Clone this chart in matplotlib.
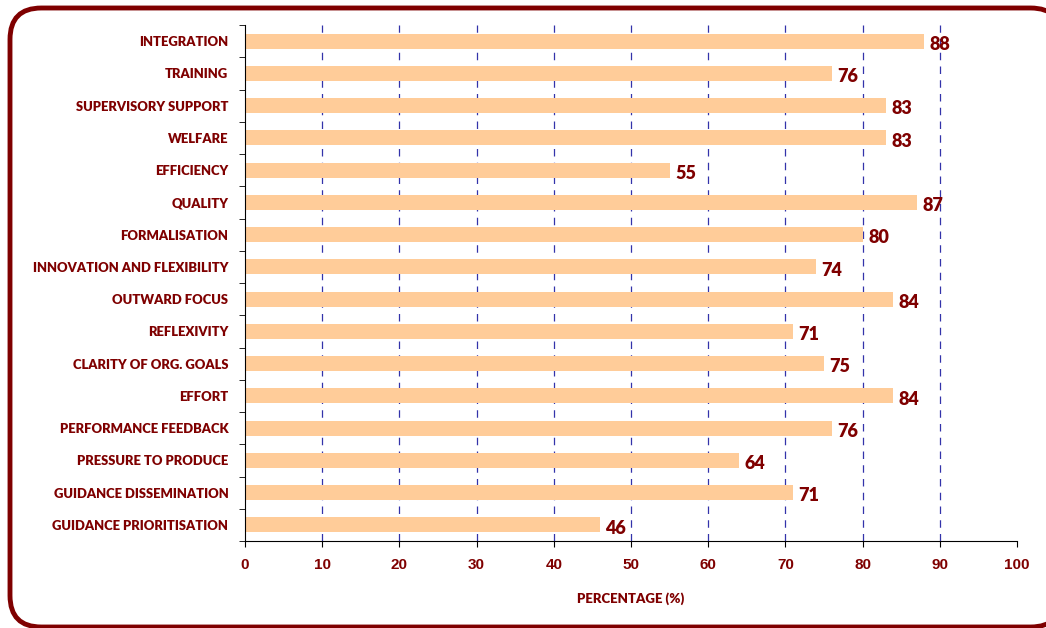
import numpy as np
import matplotlib.pyplot as plt
from matplotlib.patches import FancyBboxPatch

#####DATA#####
categories = ['INTEGRATION', 'TRAINING', 'SUPERVISORY SUPPORT', 'WELFARE', 'EFFICIENCY',
              'QUALITY', 'FORMALISATION', 'INNOVATION AND FLEXIBILITY', 'OUTWARD FOCUS',
              'REFLEXIVITY', 'CLARITY OF ORG. GOALS', 'EFFORT', 'PERFORMANCE FEEDBACK',
              'PRESSURE TO PRODUCE', 'GUIDANCE DISSEMINATION', 'GUIDANCE PRIORITISATION']
values = [88, 76, 83, 83, 55, 87, 80, 74, 84, 71, 75, 84, 76, 64, 71, 46]
labels = ['88', '76', '83', '83', '55', '87', '80', '74', '84', '71', '75', '84', '76', '64', '71', '46']
xticks = [0, 10, 20, 30, 40, 50, 60, 70, 80, 90, 100]

dark_red = '#7f0000'
W, H = 1046, 628

fig = plt.figure(figsize=(W / 100, H / 100), dpi=100)

#rounded frame round the chart, cut off a little at right and bottom
x0, x1, ytop, ybot = 10, 1062, 8, 627
frame = FancyBboxPatch((x0 / W, 1 - ybot / H), (x1 - x0) / W, (ybot - ytop) / H,
                       transform=fig.transFigure,
                       boxstyle='round,pad=0,rounding_size=0.03', facecolor='white',
                       edgecolor=dark_red, linewidth=3.5, mutation_aspect=W / H, zorder=0)
fig.patches.append(frame)

ax = fig.add_axes([245 / W, 87 / H, 772 / W, 516 / H])
ax.set_zorder(2)
ax.set_facecolor('none')

y = np.arange(len(categories))[::-1]
ax.barh(y, values, height=0.47, color='#ffcc99', zorder=2)

for yi, v, lab in zip(y, values, labels):
    ax.text(v + 0.7, yi - 0.1, lab, va='center', ha='left', fontsize=13, fontweight='heavy',
            color=dark_red, family='Lato')

ax.set_xlim(0, 100)
ax.set_ylim(-0.5, len(categories) - 0.5)
ax.set_xticks(xticks)
ax.set_xticklabels([str(t) for t in xticks], family='Liberation Sans', fontweight='bold',
                   fontsize=11, color=dark_red)
ax.set_yticks(y)
ax.set_yticklabels(categories, family='Lato', fontweight='heavy', fontsize=9.4, color=dark_red)
ax.set_yticks(np.arange(-0.5, len(categories), 1), minor=True)
ax.tick_params(axis='y', which='major', length=0, pad=12)
ax.tick_params(axis='y', which='minor', length=4, direction='out')
ax.tick_params(axis='x', length=4, direction='out', pad=8)

for gx in range(10, 100, 10):
    ax.axvline(gx, color='#3333aa', linestyle=(0, (6, 5)), linewidth=0.9, zorder=1)

ax.spines['top'].set_visible(False)
ax.spines['right'].set_visible(False)
ax.set_xlabel('PERCENTAGE (%)', family='Lato', fontweight='heavy', fontsize=9.5,
              color=dark_red, labelpad=15)

plt.savefig('out.png', dpi=100)
